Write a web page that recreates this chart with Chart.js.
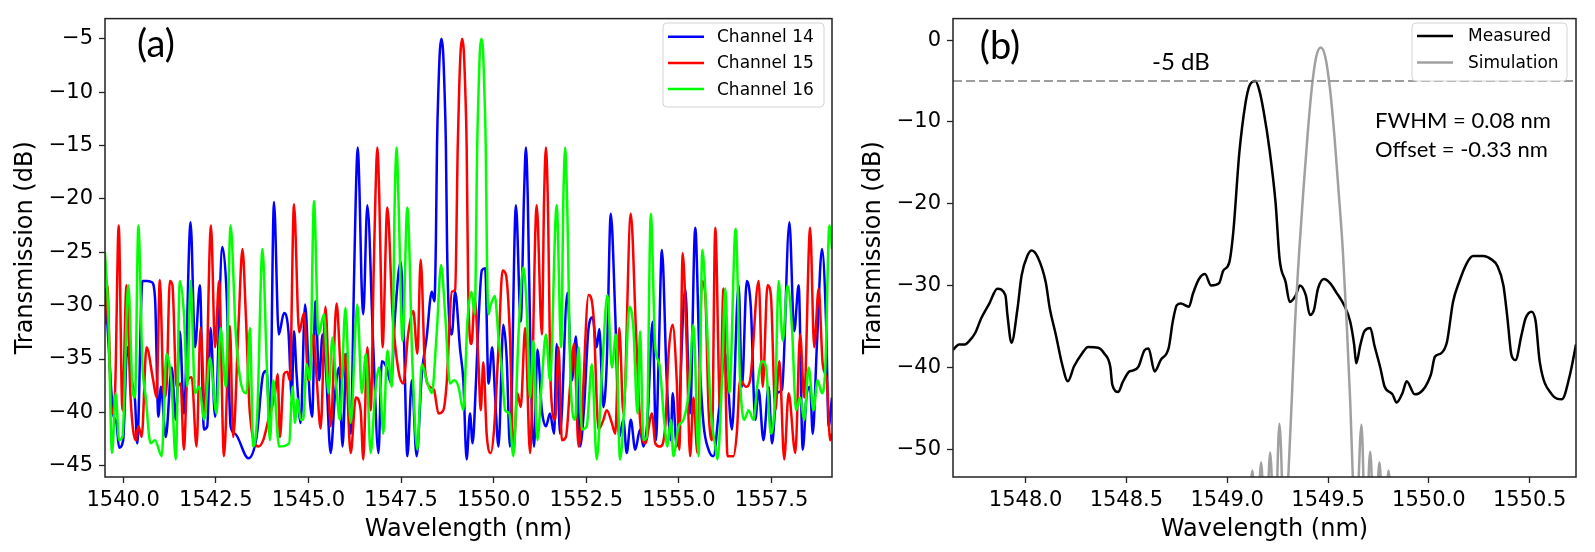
<!DOCTYPE html>
<html>
<head>
<meta charset="utf-8">
<script src="https://cdn.jsdelivr.net/npm/chart.js@4.4.0/dist/chart.umd.min.js"></script>
<style>
body { margin: 0; background: #fff; width: 1595px; height: 552px; overflow: hidden; position: relative; }
canvas { position: absolute; top: 0; }
#chartA { left: 0; }
#chartB { left: 845px; }
.note { position: absolute; font-family: Lato, sans-serif; color: #000; white-space: nowrap; line-height: 1; }
</style>
</head>
<body>
<canvas id="chartA" width="845" height="552"></canvas>
<canvas id="chartB" width="750" height="552"></canvas>
<div class="note" style="left:156px; top:23px; font-size:38px; transform:translateX(-50%);">(a)</div>
<div class="note" style="left:1000px; top:25px; font-size:38px; transform:translateX(-50%);">(b)</div>
<div class="note" style="left:1181px; top:49px; font-size:24px; transform:translateX(-50%);">-5 dB</div>
<div class="note" style="left:1375px; top:109px; font-size:22px;">FWHM = 0.08 nm</div>
<div class="note" style="left:1375px; top:138px; font-size:22px;">Offset = -0.33 nm</div>
<script>
// panel (a): wavelength (nm) / transmission (dB)
const ch14Wl = [1539.51,1539.57,1539.73,1539.82,1539.89,1540.00,1540.11,1540.23,1540.32,1540.38,1540.52,1540.63,1540.77,1540.86,1540.95,1541.02,1541.15,1541.31,1541.42,1541.53,1541.64,1541.82,1541.94,1542.07,1542.18,1542.27,1542.36,1542.48,1542.68,1542.79,1542.90,1543.02,1543.38,1543.60,1543.78,1543.87,1543.96,1544.07,1544.20,1544.34,1544.46,1544.55,1544.61,1544.68,1544.79,1544.91,1545.04,1545.10,1545.19,1545.29,1545.38,1545.47,1545.60,1545.72,1545.83,1545.92,1546.03,1546.14,1546.23,1546.28,1546.33,1546.38,1546.43,1546.48,1546.59,1546.75,1546.89,1546.98,1547.11,1547.23,1547.34,1547.49,1547.58,1547.67,1547.79,1547.92,1548.06,1548.19,1548.33,1548.40,1548.44,1548.47,1548.51,1548.55,1548.59,1548.63,1548.67,1548.71,1548.74,1548.78,1548.87,1548.96,1549.09,1549.18,1549.27,1549.36,1549.43,1549.52,1549.59,1549.68,1549.77,1549.86,1549.96,1550.04,1550.13,1550.26,1550.35,1550.44,1550.60,1550.73,1550.82,1550.87,1550.92,1551.00,1551.09,1551.18,1551.30,1551.41,1551.52,1551.63,1551.70,1551.79,1551.99,1552.11,1552.22,1552.33,1552.44,1552.56,1552.67,1552.78,1552.85,1552.96,1553.05,1553.16,1553.28,1553.39,1553.50,1553.59,1553.70,1553.82,1553.95,1554.04,1554.15,1554.29,1554.38,1554.45,1554.54,1554.67,1554.78,1554.83,1554.94,1555.17,1555.30,1555.44,1555.55,1555.66,1555.80,1555.93,1556.07,1556.25,1556.43,1556.61,1556.70,1556.83,1556.94,1557.06,1557.15,1557.28,1557.42,1557.51,1557.64,1557.78,1557.98,1558.11,1558.23,1558.34,1558.45,1558.54,1558.61,1558.72,1558.86,1558.97,1559.04,1559.13];
const ch14Db = [-28.4,-31.5,-40.1,-41.0,-43.3,-42.6,-33.9,-37.0,-38.9,-42.9,-27.7,-27.7,-27.8,-29.3,-40.4,-37.6,-42.3,-35.8,-40.7,-32.4,-40.1,-22.2,-33.9,-28.1,-41.6,-41.3,-32.1,-40.4,-24.5,-28.7,-41.3,-42.0,-44.3,-42.3,-36.4,-36.1,-41.3,-20.3,-32.7,-30.7,-32.4,-38.6,-32.4,-36.4,-41.0,-29.9,-38.9,-40.4,-29.6,-37.0,-32.7,-35.8,-43.8,-38.2,-35.8,-43.2,-34.5,-42.0,-27.7,-19.5,-15.2,-19.5,-27.5,-30.8,-20.6,-33.9,-43.8,-35.2,-35.8,-37.3,-30.8,-25.9,-33.3,-44.1,-37.0,-44.1,-36.4,-33.0,-28.7,-29.6,-24.0,-15.0,-9.5,-6.0,-5.0,-6.0,-9.5,-15.0,-24.0,-29.9,-32.7,-28.7,-34.0,-37.0,-44.4,-40.1,-42.9,-37.3,-31.5,-26.7,-26.5,-37.3,-33.9,-38.6,-43.2,-31.8,-34.9,-43.2,-20.6,-31.5,-19.5,-15.2,-20.0,-35.8,-43.2,-34.1,-39.8,-41.3,-40.1,-42.0,-33.6,-42.0,-28.8,-37.0,-32.9,-43.2,-39.5,-32.1,-31.1,-33.9,-32.2,-39.5,-35.5,-21.4,-30.8,-42.3,-40.7,-43.8,-40.7,-43.5,-41.6,-43.2,-40.7,-31.5,-42.6,-35.2,-24.8,-37.0,-42.6,-38.2,-43.2,-28.4,-40.1,-22.7,-34.5,-41.0,-43.5,-44.1,-40.1,-34.5,-41.6,-28.1,-37.6,-27.7,-30.2,-40.7,-37.9,-42.6,-37.6,-42.9,-38.2,-37.9,-22.2,-32.4,-28.1,-43.5,-38.2,-37.6,-42.0,-33.9,-24.7,-31.5,-41.3,-38.6];

const ch15Wl = [1539.51,1539.57,1539.69,1539.78,1539.88,1539.98,1540.09,1540.20,1540.34,1540.41,1540.50,1540.63,1540.81,1540.90,1540.99,1541.10,1541.17,1541.26,1541.33,1541.44,1541.55,1541.64,1541.73,1541.85,1541.98,1542.09,1542.21,1542.37,1542.48,1542.59,1542.72,1542.88,1542.97,1543.11,1543.22,1543.31,1543.42,1543.65,1543.78,1543.92,1544.10,1544.17,1544.23,1544.34,1544.43,1544.50,1544.61,1544.75,1544.88,1545.00,1545.13,1545.22,1545.33,1545.46,1545.60,1545.76,1545.90,1545.99,1546.14,1546.28,1546.41,1546.48,1546.59,1546.68,1546.76,1546.81,1546.86,1546.91,1546.96,1547.00,1547.13,1547.27,1547.43,1547.56,1547.69,1547.83,1547.94,1548.03,1548.15,1548.28,1548.39,1548.51,1548.64,1548.73,1548.87,1548.96,1549.03,1549.07,1549.11,1549.15,1549.19,1549.23,1549.27,1549.31,1549.40,1549.49,1549.59,1549.65,1549.72,1549.81,1549.92,1550.01,1550.13,1550.24,1550.33,1550.44,1550.53,1550.64,1550.73,1550.85,1550.98,1551.16,1551.30,1551.36,1551.41,1551.46,1551.54,1551.66,1551.75,1551.84,1551.95,1552.06,1552.17,1552.29,1552.38,1552.56,1552.69,1552.83,1552.96,1553.05,1553.19,1553.28,1553.39,1553.50,1553.70,1553.84,1553.95,1554.09,1554.27,1554.36,1554.49,1554.63,1554.72,1554.83,1554.94,1555.01,1555.10,1555.21,1555.30,1555.39,1555.50,1555.62,1555.71,1555.80,1555.89,1555.98,1556.11,1556.20,1556.31,1556.47,1556.56,1556.65,1556.81,1556.92,1557.15,1557.26,1557.39,1557.48,1557.60,1557.71,1557.84,1557.96,1558.14,1558.27,1558.38,1558.54,1558.65,1558.77,1558.88,1558.99,1559.08,1559.13];
const ch15Db = [-31.8,-28.1,-40.1,-38.2,-22.5,-39.8,-28.1,-38.6,-42.6,-41.3,-42.3,-33.9,-37.0,-38.6,-27.6,-38.6,-37.6,-27.7,-28.1,-37.6,-37.3,-43.5,-37.0,-36.7,-43.2,-32.1,-40.1,-22.5,-33.9,-27.7,-44.1,-31.9,-42.3,-32.1,-24.7,-30.8,-40.1,-43.2,-42.6,-40.7,-38.2,-36.4,-42.3,-36.4,-36.2,-37.0,-20.5,-32.5,-30.7,-37.0,-32.7,-36.7,-41.5,-30.1,-41.3,-29.8,-37.0,-34.5,-43.8,-38.6,-39.8,-44.4,-33.9,-39.8,-27.0,-19.5,-15.2,-19.5,-28.0,-33.9,-20.8,-30.8,-36.1,-37.3,-32.7,-30.5,-34.5,-25.7,-36.1,-37.6,-37.9,-40.1,-39.8,-37.3,-28.7,-28.5,-15.0,-9.5,-6.0,-5.0,-6.0,-9.5,-15.0,-28.0,-33.6,-29.3,-35.5,-39.8,-35.3,-42.0,-43.8,-41.6,-33.9,-26.7,-27.1,-33.0,-43.8,-38.2,-39.5,-32.1,-43.8,-20.6,-32.7,-20.0,-15.2,-20.0,-37.6,-40.7,-33.9,-42.6,-42.3,-37.6,-33.6,-43.2,-40.1,-29.0,-30.8,-41.6,-40.7,-39.8,-41.0,-42.0,-32.1,-40.1,-21.4,-32.4,-40.7,-42.9,-40.1,-42.9,-43.2,-41.3,-34.5,-31.8,-37.0,-43.5,-25.1,-33.9,-44.1,-38.6,-43.8,-27.7,-29.0,-39.8,-42.6,-22.7,-39.8,-28.4,-44.1,-44.1,-42.0,-37.0,-37.6,-37.0,-27.7,-37.6,-28.1,-29.0,-39.8,-35.2,-44.4,-38.2,-43.8,-32.7,-38.6,-22.7,-33.9,-28.4,-35.5,-37.0,-42.6,-42.0];

const ch16Wl = [1539.51,1539.60,1539.70,1539.80,1539.89,1539.98,1540.14,1540.25,1540.32,1540.41,1540.52,1540.61,1540.74,1540.86,1541.04,1541.17,1541.26,1541.31,1541.42,1541.53,1541.64,1541.73,1541.82,1541.94,1542.05,1542.19,1542.34,1542.52,1542.63,1542.77,1542.90,1543.04,1543.20,1543.33,1543.42,1543.51,1543.62,1543.76,1543.87,1543.96,1544.05,1544.21,1544.48,1544.57,1544.64,1544.70,1544.79,1544.86,1544.95,1545.04,1545.15,1545.27,1545.42,1545.54,1545.65,1545.74,1545.85,1546.00,1546.14,1546.32,1546.44,1546.55,1546.68,1546.80,1546.91,1547.02,1547.13,1547.25,1547.33,1547.38,1547.43,1547.54,1547.67,1547.81,1547.94,1548.06,1548.19,1548.33,1548.46,1548.58,1548.69,1548.82,1548.93,1549.05,1549.18,1549.29,1549.40,1549.49,1549.555,1549.595,1549.63,1549.67,1549.71,1549.745,1549.785,1549.82,1549.86,1549.90,1550.03,1550.13,1550.22,1550.31,1550.42,1550.53,1550.67,1550.80,1550.89,1550.98,1551.07,1551.18,1551.30,1551.41,1551.52,1551.70,1551.82,1551.88,1551.93,1551.98,1552.08,1552.20,1552.29,1552.38,1552.51,1552.65,1552.78,1552.92,1553.07,1553.19,1553.30,1553.41,1553.55,1553.66,1553.77,1553.88,1553.95,1554.04,1554.13,1554.24,1554.36,1554.47,1554.60,1554.69,1554.78,1554.85,1554.99,1555.12,1555.26,1555.39,1555.53,1555.63,1555.75,1555.86,1555.98,1556.04,1556.16,1556.25,1556.36,1556.53,1556.65,1556.76,1556.88,1557.01,1557.12,1557.24,1557.35,1557.48,1557.60,1557.69,1557.80,1557.93,1558.05,1558.16,1558.27,1558.38,1558.50,1558.63,1558.74,1558.86,1558.95,1559.06,1559.13];
const ch16Db = [-25.0,-30.8,-43.8,-38.2,-42.6,-42.3,-28.1,-37.6,-38.6,-22.5,-35.5,-38.6,-42.9,-42.6,-44.1,-34.5,-35.8,-37.6,-44.4,-27.7,-30.8,-37.6,-27.7,-38.2,-37.6,-40.7,-34.9,-40.1,-32.1,-37.6,-22.5,-32.7,-37.6,-38.2,-32.1,-43.2,-40.1,-24.7,-34.9,-42.6,-37.0,-43.2,-42.9,-37.6,-41.0,-38.7,-40.7,-40.7,-35.5,-37.0,-20.2,-32.7,-30.8,-38.2,-33.0,-37.0,-40.7,-30.2,-41.0,-29.9,-38.2,-34.5,-43.8,-38.2,-35.8,-42.0,-34.2,-37.6,-20.0,-15.2,-20.0,-33.3,-20.8,-35.8,-43.5,-35.5,-37.0,-38.2,-32.7,-26.2,-30.8,-37.3,-37.0,-37.6,-39.8,-31.5,-28.7,-30.8,-15.0,-9.5,-6.0,-5.0,-6.0,-9.5,-15.0,-26.0,-30.8,-30.2,-29.1,-33.0,-36.1,-39.8,-40.1,-44.1,-32.7,-26.4,-30.2,-38.6,-33.3,-42.6,-37.0,-32.7,-37.0,-20.6,-33.9,-20.0,-15.2,-20.0,-37.6,-40.7,-33.9,-41.6,-41.3,-35.5,-44.4,-36.4,-29.0,-35.8,-32.7,-44.4,-37.6,-30.1,-32.1,-40.1,-32.4,-42.6,-42.3,-21.4,-33.9,-35.5,-40.7,-43.2,-40.7,-44.1,-41.3,-40.7,-38.2,-31.8,-44.1,-24.8,-31.5,-39.8,-43.2,-44.4,-37.0,-28.4,-38.2,-22.8,-37.0,-40.7,-39.8,-40.7,-37.3,-35.2,-35.8,-42.0,-38.2,-27.7,-33.3,-28.1,-32.1,-39.8,-38.6,-40.7,-35.8,-39.8,-37.0,-38.2,-35.8,-22.5,-24.7];

// panel (b)
const measWl = [1547.64,1547.67,1547.70,1547.72,1547.75,1547.78,1547.82,1547.86,1547.90,1547.91,1547.93,1547.96,1547.98,1548.01,1548.03,1548.06,1548.10,1548.12,1548.15,1548.18,1548.21,1548.24,1548.28,1548.31,1548.36,1548.39,1548.42,1548.43,1548.46,1548.48,1548.51,1548.53,1548.56,1548.59,1548.61,1548.64,1548.67,1548.71,1548.73,1548.75,1548.77,1548.81,1548.83,1548.86,1548.89,1548.92,1548.96,1548.98,1549.01,1549.03,1549.06,1549.09,1549.11,1549.14,1549.16,1549.18,1549.21,1549.24,1549.26,1549.29,1549.31,1549.34,1549.36,1549.39,1549.41,1549.43,1549.45,1549.48,1549.51,1549.54,1549.58,1549.61,1549.63,1549.64,1549.66,1549.68,1549.71,1549.73,1549.76,1549.78,1549.82,1549.84,1549.87,1549.89,1549.93,1550.01,1550.03,1550.06,1550.09,1550.12,1550.15,1550.19,1550.22,1550.27,1550.31,1550.34,1550.37,1550.39,1550.41,1550.43,1550.46,1550.48,1550.51,1550.53,1550.55,1550.61,1550.66,1550.70,1550.73];
const measDb = [-37.85,-37.2,-37.2,-36.8,-35.8,-34.0,-32.2,-30.4,-31.2,-33.6,-37.0,-32.8,-28.8,-26.3,-25.7,-26.5,-29.6,-32.8,-36.0,-39.5,-41.7,-39.9,-38.3,-37.5,-37.6,-38.3,-39.9,-42.1,-43.0,-41.9,-40.6,-40.4,-39.9,-37.9,-37.7,-40.5,-39.1,-37.6,-34.4,-32.4,-32.2,-32.6,-31.0,-29.2,-28.6,-30.0,-29.7,-28.2,-27.2,-23.5,-13.8,-7.8,-5.6,-5.0,-6.2,-8.6,-13.4,-19.9,-26.8,-29.6,-32.0,-31.2,-30.0,-31.2,-33.6,-33.0,-30.4,-29.2,-29.7,-30.8,-32.4,-34.4,-37.3,-39.5,-37.3,-35.6,-35.2,-37.3,-40.1,-42.3,-43.3,-44.3,-43.1,-41.7,-43.3,-40.9,-38.7,-38.3,-36.9,-32.0,-29.6,-27.2,-26.4,-26.4,-26.8,-27.6,-30.0,-34.0,-38.5,-39.1,-36.0,-34.0,-33.2,-34.4,-39.3,-43.3,-43.9,-40.9,-37.2];
const simWl = [1549.100,1549.125,1549.146,1549.168,1549.191,1549.213,1549.236,1549.259,1549.286,1549.303,1549.320,1549.336,1549.358,1549.378,1549.398,1549.419,1549.441,1549.464,1549.487,1549.510,1549.532,1549.552,1549.573,1549.593,1549.610,1549.623,1549.636,1549.666,1549.687,1549.709,1549.732,1549.755,1549.778,1549.800,1549.821];
const simDb = [-62,-52.6,-62,-51.6,-62,-50.4,-62,-46.9,-62,-53.4,-44.1,-34.8,-25.5,-18.3,-11.8,-6.0,-2.1,-0.9,-2.1,-6.0,-11.8,-18.3,-25.5,-34.8,-44.1,-53.4,-62,-47.0,-62,-50.3,-62,-51.6,-62,-52.6,-62];
const refLevel = -5;

const ticksAX = [1540.0, 1542.5, 1545.0, 1547.5, 1550.0, 1552.5, 1555.0, 1557.5];
const ticksAY = [-45, -40, -35, -30, -25, -20, -15, -10, -5];
const ticksBX = [1548.0, 1548.5, 1549.0, 1549.5, 1550.0, 1550.5];
const ticksBY = [-50, -40, -30, -20, -10, 0];

const pts = (xs, ys) => xs.map((x, i) => ({x: x, y: ys[i]}));
const minus = v => (v < 0 ? '\u2212' : '') + Math.abs(v);

// frame on all four sides like the matplotlib spines
const framePlugin = {
    id: 'frame',
    afterDatasetsDraw(chart) {
        const a = chart.chartArea, ctx = chart.ctx;
        ctx.save();
        ctx.strokeStyle = '#222';
        ctx.lineWidth = 1.5;
        ctx.strokeRect(a.left, a.top, a.right - a.left, a.bottom - a.top);
        ctx.restore();
    }
};

function legendPlugin(box, rows) {
    return {
        id: 'boxLegend',
        afterDraw(chart) {
            const ctx = chart.ctx;
            ctx.save();
            ctx.beginPath();
            ctx.roundRect(box.x, box.y, box.w, box.h, 4);
            ctx.fillStyle = 'rgba(255,255,255,0.8)';
            ctx.fill();
            ctx.strokeStyle = '#d4d4d4';
            ctx.lineWidth = 1;
            ctx.stroke();
            ctx.font = '17px "DejaVu Sans"';
            ctx.textBaseline = 'middle';
            rows.forEach((r, i) => {
                const y = box.firstRow + i * box.step;
                ctx.strokeStyle = r.color;
                ctx.lineWidth = 2.5;
                ctx.beginPath();
                ctx.moveTo(box.lineX, y);
                ctx.lineTo(box.lineX + 36, y);
                ctx.stroke();
                ctx.fillStyle = '#000';
                ctx.fillText(r.label, box.textX, y + 1);
            });
            ctx.restore();
        }
    };
}

function axes(xMin, xMax, yMin, yMax, xTicks, yTicks, yWidth, xHeight, yTitlePad) {
    const tickFont = {family: 'DejaVu Sans', size: 21};
    const titleFont = {family: 'DejaVu Sans', size: 24};
    const grid = {drawOnChartArea: false, drawTicks: true, tickLength: 6, tickColor: '#222', tickWidth: 1.3};
    return {
        x: {
            type: 'linear', min: xMin, max: xMax,
            afterBuildTicks: s => { s.ticks = xTicks.map(v => ({value: v})); },
            afterFit: s => { s.height = xHeight; },
            ticks: {font: tickFont, color: '#000', padding: 5, maxRotation: 0, callback: v => Number(v).toFixed(1)},
            grid: grid, border: {display: false},
            title: {display: true, text: 'Wavelength (nm)', font: titleFont, color: '#000', padding: {top: 0, bottom: 8}}
        },
        y: {
            type: 'linear', min: yMin, max: yMax,
            afterBuildTicks: s => { s.ticks = yTicks.map(v => ({value: v})); },
            afterFit: s => { s.width = yWidth; },
            ticks: {font: tickFont, color: '#000', padding: 6, callback: v => minus(v)},
            grid: grid, border: {display: false},
            title: {display: true, text: 'Transmission (dB)', font: titleFont, color: '#000', padding: {top: yTitlePad, bottom: 0}}
        }
    };
}

const lineDs = (label, data, color, order) => ({
    label: label, data: data, borderColor: color, borderWidth: 2.5,
    pointRadius: 0, fill: false, cubicInterpolationMode: 'monotone', order: order
});

new Chart(document.getElementById('chartA'), {
    type: 'line',
    data: {
        datasets: [
            lineDs('Channel 14', pts(ch14Wl, ch14Db), '#0000ff', 3),
            lineDs('Channel 15', pts(ch15Wl, ch15Db), '#ff0000', 2),
            lineDs('Channel 16', pts(ch16Wl, ch16Db), '#00ff00', 1)
        ]
    },
    options: {
        responsive: false, animation: false,
        layout: {padding: {left: 0, top: 14, right: 13, bottom: 0}},
        plugins: {legend: {display: false}, tooltip: {enabled: false}},
        scales: axes(1539.51, 1559.13, -46.05, -3.12, ticksAX, ticksAY, 105, 75, 11)
    },
    plugins: [framePlugin, legendPlugin(
        {x: 663, y: 23, w: 161, h: 84, firstRow: 36.7, step: 26.2, lineX: 668, textX: 717},
        [{label: 'Channel 14', color: '#0000ff'}, {label: 'Channel 15', color: '#ff0000'}, {label: 'Channel 16', color: '#00ff00'}]
    )]
});

new Chart(document.getElementById('chartB'), {
    type: 'line',
    data: {
        datasets: [
            lineDs('Measured', pts(measWl, measDb), '#000000', 2),
            lineDs('Simulation', pts(simWl, simDb), '#a0a0a0', 1),
            {
                label: 'ref', data: [{x: 1547.64, y: refLevel}, {x: 1550.73, y: refLevel}],
                borderColor: '#808080', borderWidth: 1.6, borderDash: [9, 4], pointRadius: 0, order: 0
            }
        ]
    },
    options: {
        responsive: false, animation: false,
        layout: {padding: {left: 0, top: 14, right: 19, bottom: 0}},
        plugins: {legend: {display: false}, tooltip: {enabled: false}},
        scales: axes(1547.64, 1550.73, -53.4, 2.63, ticksBX, ticksBY, 108, 75, 14)
    },
    plugins: [framePlugin, legendPlugin(
        {x: 567, y: 23, w: 155, h: 58, firstRow: 36, step: 26.5, lineX: 572, textX: 623},
        [{label: 'Measured', color: '#000000'}, {label: 'Simulation', color: '#a0a0a0'}]
    )]
});
</script>
</body>
</html>
